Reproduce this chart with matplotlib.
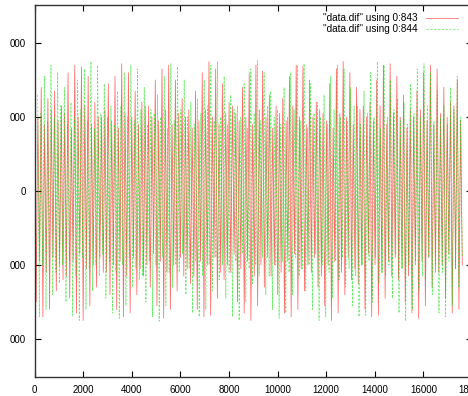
import numpy as np
import matplotlib
matplotlib.use("Agg")
import matplotlib.pyplot as plt

# per cycle: tall peak, deep trough, then two smaller swings
red_tops = [1650, 1400, 1250, 1350, 1150, 1600, 1700, 1680, 1550, 1200, 1000, 1450, 1550, 1720, 1600, 1350,
            1200, 1150, 1500, 1650, 1700, 1500, 1250, 1100, 1350, 1600, 1750, 1650, 1450, 1200, 1050, 1400,
            1600, 1700, 1620, 1300, 1150, 1250, 1550, 1700, 1680, 1500, 1200, 1050, 1450, 1650, 1750, 1600,
            1400, 1150, 1200, 1500, 1700, 1720, 1550, 1300, 1100, 1350, 1600, 1700, 1650, 1400, 1200, 1500]
red_bottoms = [-1500, -1700, -1600, -1350, -1200, -1450, -1650, -1750, -1550, -1300, -1100, -1400, -1600, -1700,
               -1650, -1400, -1150, -1300, -1550, -1720, -1600, -1350, -1150, -1250, -1600, -1700, -1680, -1450,
               -1200, -1100, -1500, -1650, -1750, -1550, -1300, -1150, -1400, -1650, -1700, -1600, -1350, -1100,
               -1300, -1550, -1750, -1650, -1400, -1200, -1250, -1600, -1700, -1680, -1450, -1150, -1200, -1500,
               -1650, -1720, -1550, -1300, -1100, -1450, -1650, -1600]
red_mid_hi = [1000, 900, 1100, 950, 1050, 850, 1000, 1150, 900, 1000, 1100, 950, 850, 1050, 1000, 900,
              1150, 1000, 950, 1100, 900, 1050, 1000, 850, 950, 1100, 1000, 900, 1050, 1150, 950, 1000,
              900, 1100, 1000, 850, 1050, 950, 1150, 1000, 900, 1000, 1100, 950, 850, 1050, 1000, 900,
              1100, 1000, 950, 1150, 900, 1050, 1000, 850, 1000, 1100, 950, 900, 1050, 1000, 1150, 950]
red_mid_lo = [-950, -1100, -900, -1000, -1150, -950, -850, -1050, -1000, -900, -1100, -1000, -950, -1150, -900, -1050,
              -1000, -850, -950, -1100, -1000, -900, -1050, -1150, -950, -1000, -900, -1100, -1000, -850, -1050, -950,
              -1150, -1000, -900, -1000, -1100, -950, -850, -1050, -1000, -900, -1150, -1000, -950, -1100, -900, -1050,
              -1000, -850, -1000, -1100, -950, -900, -1050, -1150, -1000, -950, -900, -1100, -1000, -850, -1050, -1000]
green_tops = [1300, 1550, 1700, 1600, 1400, 1200, 1500, 1650, 1750, 1700, 1450, 1150, 1350, 1600, 1700, 1650,
              1400, 1100, 1300, 1550, 1720, 1680, 1500, 1200, 1250, 1500, 1700, 1750, 1550, 1300, 1150, 1450,
              1650, 1760, 1600, 1350, 1100, 1400, 1600, 1700, 1720, 1450, 1200, 1300, 1550, 1700, 1650, 1400,
              1150, 1350, 1600, 1750, 1700, 1500, 1250, 1200, 1450, 1650, 1720, 1600, 1350, 1150, 1400, 1550]
green_bottoms = [-1700, -1600, -1400, -1250, -1500, -1680, -1750, -1600, -1350, -1150, -1450, -1650, -1720, -1550,
                 -1300, -1200, -1500, -1700, -1760, -1550, -1300, -1100, -1400, -1650, -1700, -1600, -1350, -1200,
                 -1450, -1700, -1750, -1500, -1250, -1150, -1400, -1600, -1720, -1650, -1400, -1150, -1350, -1600,
                 -1750, -1700, -1450, -1200, -1300, -1550, -1700, -1680, -1500, -1250, -1150, -1450, -1650, -1760,
                 -1600, -1350, -1200, -1400, -1650, -1700, -1550, -1300]
green_mid_hi = [1050, 950, 1000, 1150, 900, 1000, 1100, 950, 850, 1050, 1000, 900, 1150, 1000, 950, 1100,
                900, 1050, 1000, 850, 950, 1100, 1000, 900, 1050, 1150, 950, 1000, 900, 1100, 1000, 850,
                1050, 950, 1150, 1000, 900, 1000, 1100, 950, 850, 1050, 1000, 900, 1100, 1000, 950, 1150,
                900, 1050, 1000, 850, 1000, 1100, 950, 900, 1050, 1000, 1150, 950, 1000, 900, 1100, 1000]
green_mid_lo = [-1000, -900, -1100, -1000, -950, -1150, -900, -1050, -1000, -850, -950, -1100, -1000, -900, -1050, -1150,
                -950, -1000, -900, -1100, -1000, -850, -1050, -950, -1150, -1000, -900, -1000, -1100, -950, -850, -1050,
                -1000, -900, -1150, -1000, -950, -1100, -900, -1050, -1000, -850, -1000, -1100, -950, -900, -1050, -1150,
                -1000, -950, -900, -1100, -1000, -850, -1050, -1000, -950, -1150, -900, -1000, -1100, -950, -1050, -900]

n_samples = 17600
x_ticks = [0, 2000, 4000, 6000, 8000, 10000, 12000, 14000, 16000, 18000]
y_ticks = [2000, 1000, 0, -1000, -2000]
y_tick_labels = ["000", "000", "0", "000", "000"]
labels = ['"data.dif" using 0:843', '"data.dif" using 0:844']


def trace(tops, bottoms, mid_hi, mid_lo, start):
    vals = np.ravel(np.column_stack([tops, bottoms, mid_hi, mid_lo]))
    xs = np.linspace(start, n_samples, len(vals))
    return xs, vals


plt.rcParams['font.family'] = ['Liberation Sans', 'DejaVu Sans']
fig = plt.figure(figsize=(4.68, 3.96), dpi=100)
W, H = 468.0, 396.0
ax = fig.add_axes([34.5 / W, (H - 377) / H, 437.5 / W, 372 / H])

xr, yr = trace(red_tops, red_bottoms, red_mid_hi, red_mid_lo, 0)
xg, yg = trace(green_tops, green_bottoms, green_mid_hi, green_mid_lo, 130)
ax.plot(xr, yr, color="#ff0000", lw=0.55, alpha=0.6, label=labels[0])
ax.plot(xg, yg, color="#00dd00", lw=0.55, alpha=0.6, ls=(0, (3, 2)), label=labels[1])

ax.set_xlim(0, 18000)
ax.set_ylim(-2514, 2514)
ax.set_xticks(x_ticks)
ax.set_yticks(y_ticks)
ax.set_yticklabels(y_tick_labels)
ax.tick_params(direction="in", length=4.5, width=0.8, labelsize=7, top=True, right=True, pad=6)
for s in ax.spines.values():
    s.set_linewidth(1.0)
    s.set_color("#333333")

leg = ax.legend(loc="upper right", bbox_to_anchor=(463 / W, 1 - 8 / H), bbox_transform=fig.transFigure,
                frameon=False, markerfirst=False, fontsize=7.2, handlelength=3.2, handletextpad=0.8,
                labelspacing=0.15, borderpad=0)

fig.savefig("out.png", dpi=100)
